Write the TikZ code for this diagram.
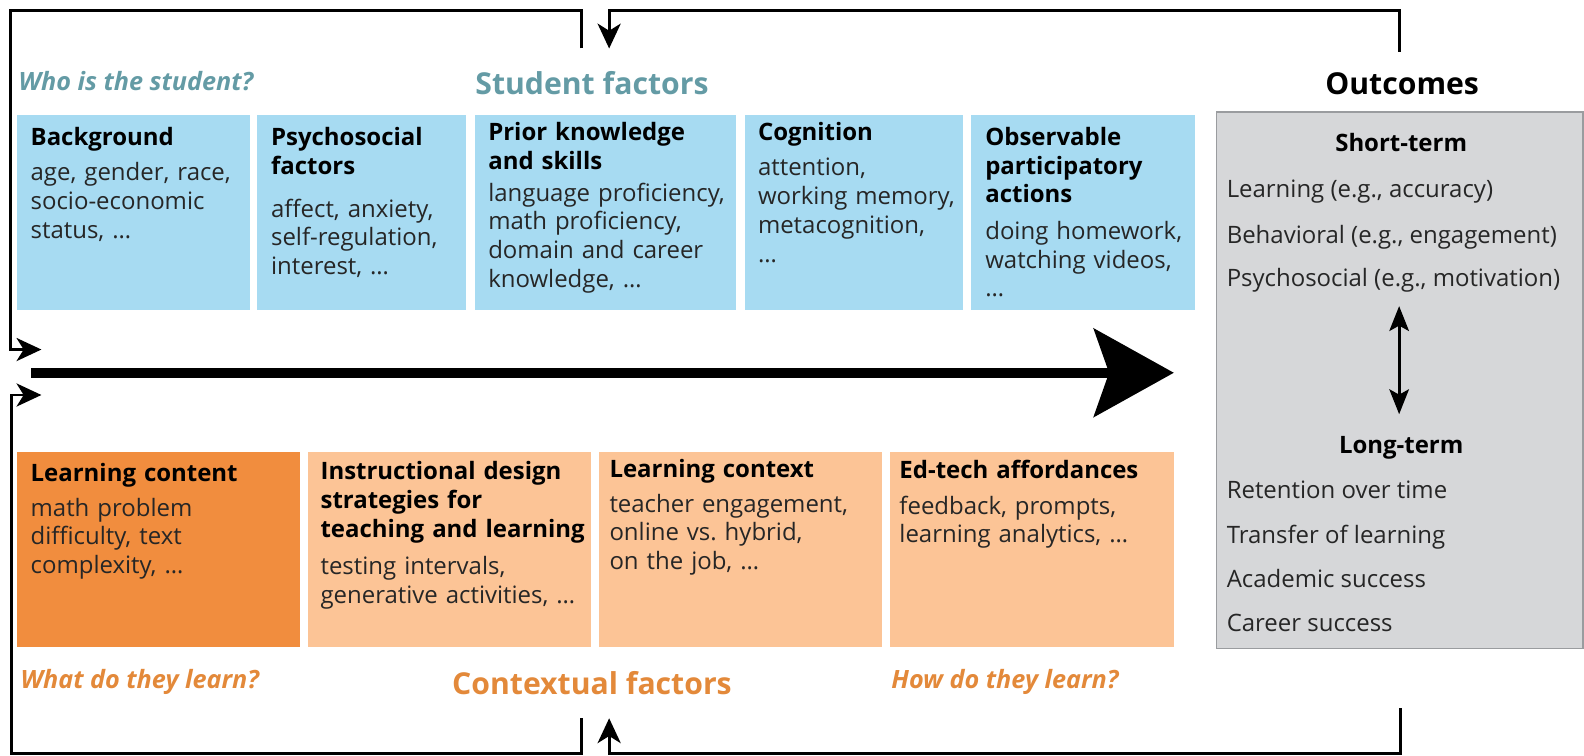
\documentclass[tikz,border=0pt]{standalone}
\usepackage{fontspec}
\setmainfont{Open Sans}
\usetikzlibrary{arrows.meta}
\definecolor{sfblue}{HTML}{A7DBF2}
\definecolor{cfdark}{HTML}{F18D3E}
\definecolor{cflight}{HTML}{FCC496}
\definecolor{outgray}{HTML}{D6D7D9}
\definecolor{outedge}{HTML}{9A9C9F}
\definecolor{tealtxt}{HTML}{649BA5}
\definecolor{orangetxt}{HTML}{E3893A}
\definecolor{bodytxt}{HTML}{262626}
\newcommand\bxfont{\fontsize{13.5}{16.2}\selectfont}
\newcommand\hdfont{\fontsize{17}{20}\selectfont\bfseries}
\newcommand\qfont{\fontsize{14.2}{17}\selectfont\bfseries\itshape}
\begin{document}
\begin{tikzpicture}[x=0.02cm,y=-0.02cm,
  ttl/.style={anchor=base west, inner sep=0pt, text width=6cm, align=left, font=\bxfont\bfseries, text=black},
  body/.style={anchor=base west, inner sep=0pt, text width=6cm, align=left, font=\bxfont, text=bodytxt},
  item/.style={anchor=mid west, inner sep=0pt, font=\bxfont, text=bodytxt},
  subhd/.style={anchor=mid, inner sep=0pt, font=\bxfont\bfseries, text=black},
  head/.style={anchor=mid, inner sep=0pt, font=\hdfont},
  question/.style={anchor=mid west, inner sep=0pt, font=\qfont},
  fb/.style={line width=1.6pt, -{Stealth[length=14pt,width=13pt,inset=4pt]}},
  bigarrow/.style={line width=5.7pt, -{Stealth[length=45pt,width=49.5pt,inset=8.5pt]}},
  dblarrow/.style={line width=1.7pt, {Stealth[length=14pt,width=11pt,inset=3pt]}-{Stealth[length=14pt,width=11pt,inset=3pt]}}
]
\useasboundingbox (0,0) rectangle (1568,748);

% student factor boxes
\fill[sfblue] (17,114) rectangle (247,307);
\fill[sfblue] (254,114) rectangle (461,307);
\fill[sfblue] (470,114) rectangle (729,307);
\fill[sfblue] (737,114) rectangle (953,307);
\fill[sfblue] (961,114) rectangle (1183,307);

% contextual factor boxes
\fill[cfdark] (17,447) rectangle (297,640);
\fill[cflight] (305,447) rectangle (585,640);
\fill[cflight] (593,447) rectangle (873,640);
\fill[cflight] (881,447) rectangle (1162,640);

% outcomes box
\filldraw[fill=outgray, draw=outedge, line width=0.8pt] (1204,111) rectangle (1567,642);

% headings
\node[question, text=tealtxt] (qwho) at (18,85) {Who is the student?};
\node[head, text=tealtxt] (hsf) at (586,89) {Student factors};
\node[head, text=black] (hout) at (1388,89) {Outcomes};
\node[question, text=orangetxt] (qwhat) at (20,677) {What do they learn?};
\node[head, text=orangetxt] (hcf) at (586,683) {Contextual factors};
\node[question, text=orangetxt] (qhow) at (882,677) {How do they learn?};

% student factor texts
\node[ttl] (s1t) at (30,144) {Background};
\node[body] (s1b) at (30,179) {age, gender, race,\\socio-economic\\status, …};
\node[ttl] (s2t) at (268,144) {Psychosocial\\factors};
\node[body] (s2b) at (268,215) {affect, anxiety,\\self-regulation,\\interest, …};
\node[ttl] (s3t) at (483,139) {Prior knowledge\\and skills};
\node[body] (s3b) at (483,199) {language proficiency,\\math proficiency,\\domain and career\\knowledge, …};
\node[ttl] (s4t) at (750,139) {Cognition};
\node[body] (s4b) at (750,174) {attention,\\working memory,\\metacognition,\\…};
\node[ttl] (s5t) at (975,144) {Observable\\participatory\\actions};
\node[body] (s5b) at (975,237) {doing homework,\\watching videos,\\…};

% contextual factor texts
\node[ttl] (c1t) at (30,477) {Learning content};
\node[body] (c1b) at (30,511) {math problem\\difficulty, text\\complexity, …};
\node[ttl] (c2t) at (317,475) {Instructional design\\strategies for\\teaching and learning};
\node[body] (c2b) at (317,569) {testing intervals,\\generative activities, …};
\node[ttl] (c3t) at (603,473) {Learning context};
\node[body] (c3b) at (603,507) {teacher engagement,\\online vs.\ hybrid,\\on the job, …};
\node[ttl] (c4t) at (890,474) {Ed-tech affordances};
\node[body] (c4b) at (890,509) {feedback, prompts,\\learning analytics, …};

% outcomes texts
\node[subhd] (short) at (1387,145) {Short-term};
\node[item] (o1) at (1214,191) {Learning (e.g., accuracy)};
\node[item] (o2) at (1214,236) {Behavioral (e.g., engagement)};
\node[item] (o3) at (1214,279) {Psychosocial (e.g., motivation)};
\node[subhd] (long) at (1387,444) {Long-term};
\node[item] (o4) at (1214,489) {Retention over time};
\node[item] (o5) at (1214,533) {Transfer of learning};
\node[item] (o6) at (1214,577) {Academic success};
\node[item] (o7) at (1214,620) {Career success};

% arrows
\coordinate (dA) at (1385,303);
\coordinate (dB) at (1385,410);
\draw[dblarrow] (dA) -- (dB);

\coordinate (mainL) at (31,369);
\coordinate (mainR) at (1162,369);
\draw[bigarrow] (mainL) -- (mainR);

\coordinate (tlA) at (576,48);
\coordinate (inTop) at (41,346);
\draw[fb] (tlA) |- (10,10) |- (inTop);

\coordinate (trA) at (1385,51);
\coordinate (sfIn) at (603,48);
\draw[fb] (trA) -- (1385,10) -| (sfIn);

\coordinate (blA) at (576,711);
\coordinate (inBot) at (41,391);
\draw[fb] (blA) |- (11,746) |- (inBot);

\coordinate (brA) at (1386,701);
\coordinate (cfIn) at (603,711);
\draw[fb] (brA) -- (1386,746) -| (cfIn);
\end{tikzpicture}
\end{document}
